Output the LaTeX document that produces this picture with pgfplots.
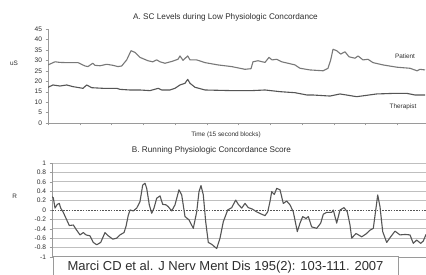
\documentclass[border=0pt]{standalone}
\usepackage{fontspec}
\setmainfont{Liberation Sans}
\usepackage{pgfplots}
\pgfplotsset{compat=1.18}
\definecolor{txt}{HTML}{2E2E2E}
\definecolor{lnA}{HTML}{787878}
\definecolor{lnB}{HTML}{555555}
\definecolor{grd}{HTML}{9A9A9A}
\definecolor{grid}{HTML}{808080}
\begin{document}
\begin{tikzpicture}[x=1pt,y=1pt]
\useasboundingbox (0,0) rectangle (426,275);
\fill[white] (0,0) rectangle (426,275);
% ---------- Chart A ----------
\begin{axis}[
  at={(48pt,152pt)}, anchor=south west, scale only axis,
  width=378pt, height=94pt,
  xmin=48, xmax=426, ymin=0, ymax=45,
  axis lines*=left, axis line style={grd,-},
  xtick={48,79.7,111.5,143.2,175,206.7,238.5,270.2,302,333.7,365.5,397.2},
  xticklabels={},
  ytick={0,5,10,15,20,25,30,35,40,45},
  tick align=outside, major tick length=2.5pt, tick style={grd},
  yticklabel style={font=\fontsize{6.6}{7}\selectfont, text=txt},
  /pgf/number format/assume math mode=true,
]
\addplot[lnA, line width=1.1pt, line join=round] coordinates {
(48,27.8)(55,29.3)(60,29.0)(66.7,28.9)(78,28.9)(85,27.3)(88,27.0)(92.7,28.6)(95,27.6)(100,27.4)(106.7,28.1)(113,27.6)(118,27.0)(121.7,27.3)(126.7,30.2)(131,34.6)(135,33.8)(140,31.4)(148,29.8)(152.7,29.3)(156.7,30.2)(160,29.3)(165,28.6)(172,29.5)(178,30.5)(180,32.1)(183,30.0)(187.7,32.1)(190,30.2)(196.7,30.2)(205,28.9)(218,27.8)(231.7,27.0)(245,25.7)(251,26.0)(253,29.3)(258,29.8)(265,29.0)(269,31.4)(272,30.2)(276.7,30.5)(281.7,29.3)(288,28.6)(295,27.8)(300,26.2)(310,25.4)(323,25.0)(328,26.2)(330.7,30.2)(333,35.3)(336.7,34.6)(340.7,33.0)(345,34.1)(349,31.7)(355,31.0)(358,32.1)(363,30.2)(368,30.5)(373,28.9)(383,27.8)(397,26.7)(410,26.2)(417,25.0)(420,25.7)(425,25.4)
};
\addplot[lnB, line width=1.1pt, line join=round] coordinates {
(48,17.1)(53,18.2)(60,17.7)(66.7,18.2)(73,17.4)(83,16.6)(86.7,18.2)(91.7,16.9)(103,16.6)(116.7,16.6)(120,16.1)(130,15.8)(140,15.8)(150,15.5)(158.3,16.6)(161.7,15.8)(170,15.8)(175,16.6)(180,18.2)(185,19.0)(187.7,20.9)(190,19.0)(195,17.1)(205,15.8)(231.7,15.5)(251.7,15.5)(265,15.8)(280,15.0)(295,14.5)(307,13.4)(313,13.4)(330,12.9)(340,13.9)(356.7,12.6)(376.7,13.9)(395,14.2)(406.7,14.2)(415,13.4)(425,13.4)
};
\end{axis}
% ---------- Chart B ----------
\begin{axis}[
  at={(52pt,18pt)}, anchor=south west, scale only axis,
  width=374pt, height=94pt,
  xmin=52, xmax=426, ymin=-1, ymax=1,
  axis lines*=left, axis line style={grd,-},
  xtick=\empty,
  ytick={-1,-0.8,-0.6,-0.4,-0.2,0.2,0.4,0.6,0.8,1},
  yticklabels={-1,-0.8,-0.6,-0.4,-0.2,0.2,0.4,0.6,0.8,1},
  extra y ticks={0}, extra y tick labels={0},
  extra y tick style={grid=major, major grid style={draw=lnB, line width=0.8pt, dash pattern=on 1.6pt off 1.2pt}},
  ymajorgrids, major grid style={grid, line width=0.9pt},
  tick align=outside, major tick length=2.5pt, tick style={grd},
  yticklabel style={font=\fontsize{6.6}{7}\selectfont, text=txt},
]
\addplot[lnB, line width=1.1pt, line join=round] coordinates {
(52,0.28)(53.3,0.26)(55,0.04)(57.3,0.12)(59.3,0.14)(60.7,0.04)(63.3,-0.05)(66.7,-0.21)(69.3,-0.33)(73.3,-0.32)(76.7,-0.43)(80,-0.53)(83.3,-0.48)(86,-0.53)(90,-0.55)(93.3,-0.69)(96.7,-0.74)(100.7,-0.69)(105,-0.48)(108.3,-0.55)(112.7,-0.62)(116.7,-0.60)(120,-0.53)(124,-0.48)(126,-0.35)(128.3,-0.11)(130,0.0)(133.3,-0.02)(136.7,0.04)(140,0.18)(142.7,0.53)(145,0.57)(146.7,0.46)(149.3,0.11)(151.7,-0.07)(154,0.04)(156.7,0.25)(160,0.30)(162.7,0.12)(166,0.11)(168.3,0.07)(171.7,-0.02)(175,0.11)(179,0.43)(181.7,0.32)(185,-0.14)(189,-0.21)(193.3,-0.39)(196.7,-0.04)(199,0.39)(201,0.52)(203.3,0.32)(205.7,-0.25)(208.3,-0.69)(211.7,-0.73)(216.7,-0.82)(220,-0.60)(223.3,-0.25)(227.7,0.0)(231.7,0.05)(235.7,0.21)(238.3,0.12)(241.7,0.04)(245,0.14)(248.3,0.05)(252.3,0.02)(256.7,-0.04)(261.7,-0.09)(265,-0.12)(267.7,-0.04)(270,0.18)(271.7,0.39)(274.3,0.33)(276.7,0.46)(280,0.43)(283.3,0.14)(286.7,0.19)(290,0.11)(293.3,-0.04)(297.3,-0.46)(300,-0.28)(302.7,-0.14)(306,-0.18)(308.3,-0.14)(311.7,-0.36)(316.7,-0.39)(320.7,-0.28)(323.3,-0.09)(326.7,-0.05)(331.7,-0.05)(333.3,0.0)(336.7,-0.28)(340,0.0)(344,0.05)(347.3,-0.04)(350,-0.32)(351.7,-0.60)(356,-0.50)(361.7,-0.57)(366,-0.51)(370,-0.43)(373.3,-0.39)(376,0.04)(377.7,0.32)(380,0.07)(382.7,-0.46)(386.7,-0.69)(390.7,-0.57)(395,-0.45)(400,-0.53)(405,-0.52)(410,-0.53)(413.3,-0.71)(416.7,-0.64)(420.7,-0.71)(423.3,-0.66)(426,-0.52)
};
\end{axis}
% ---------- texts ----------
\node[anchor=base, text=txt, inner sep=0pt, font=\fontsize{8.2}{9}\selectfont] at (225.5,255.7) {A. SC Levels during Low Physiologic Concordance};
\node[anchor=base, text=txt, inner sep=0pt, font=\fontsize{6.4}{7}\selectfont] at (14,209) {uS};
\node[anchor=base, text=txt, inner sep=0pt, font=\fontsize{6.4}{7}\selectfont] at (226,138) {Time (15 second blocks)};
\node[anchor=base, text=txt, inner sep=0pt, font=\fontsize{6.4}{7}\selectfont] at (405,216) {Patient};
\node[anchor=base, text=txt, inner sep=0pt, font=\fontsize{6.4}{7}\selectfont] at (403,166) {Therapist};
\node[anchor=base, text=txt, inner sep=0pt, font=\fontsize{8.2}{9}\selectfont] at (211.5,122.3) {B. Running Physiologic Concordance Score};
\node[anchor=base, text=txt, inner sep=0pt, font=\fontsize{6.4}{7}\selectfont] at (14.7,76.7) {R};
\draw[draw=grd, fill=white, line width=0.8pt] (53,-5) rectangle (398,19);
\node[anchor=base, text=txt, inner sep=0pt, font=\fontsize{13}{15}\selectfont] at (225.5,4.3) {Marci CD et al. J Nerv Ment Dis 195(2): 103-111. 2007};
\end{tikzpicture}
\end{document}
